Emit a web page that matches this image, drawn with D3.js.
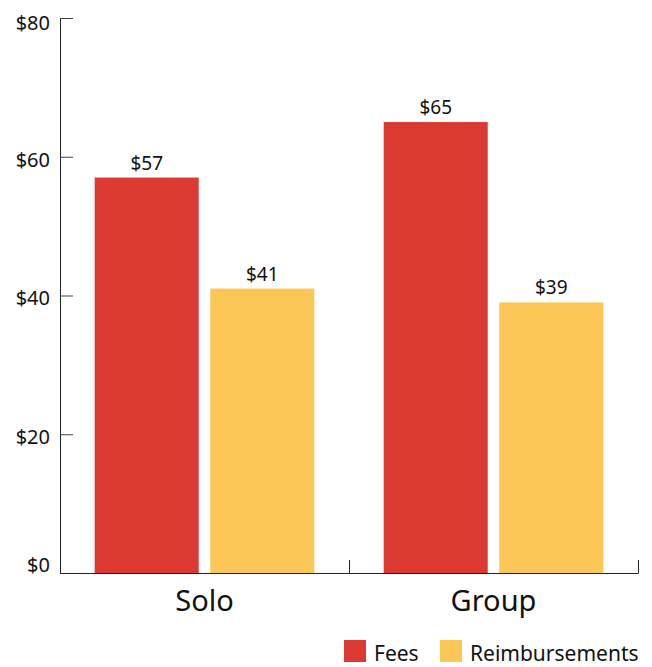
<!DOCTYPE html>
<html>
<head>
<meta charset="utf-8">
<script src="https://cdn.jsdelivr.net/npm/d3@7"></script>
<style>
  html, body { margin: 0; padding: 0; background: #fff; }
  svg { display: block; font-family: "Noto Sans", "Open Sans", sans-serif; }
</style>
</head>
<body>
<svg id="chart" width="652" height="667"></svg>
<script>
// Average amounts per session type
const categories = ["Solo", "Group"];
const seriesNames = ["Fees", "Reimbursements"];
const fees = [57, 65];
const reimbursements = [41, 39];
const yTicks = [0, 20, 40, 60, 80];
const colors = ["#DB3A33", "#FCC756"];

const seriesValues = [fees, reimbursements];
const rows = categories.map((c, i) => ({
  category: c,
  values: seriesNames.map((s, j) => ({ series: s, value: seriesValues[j][i], color: colors[j] }))
}));

const svg = d3.select("#chart");
const plot = { left: 60, right: 638, top: 18, bottom: 573 };

const y = d3.scaleLinear().domain([0, 80]).range([plot.bottom, plot.top]);
const x0 = d3.scaleBand().domain(categories).range([plot.left, plot.right]).padding(0);
const x1 = d3.scaleBand().domain(seriesNames).range([0, x0.bandwidth()])
  .paddingInner(0.1).paddingOuter(0.3);
const xEdge = d3.scaleLinear().domain([0, categories.length]).range([plot.left, plot.right]);

// Bars
const groups = svg.append("g").selectAll("g").data(rows).join("g")
  .attr("transform", d => `translate(${x0(d.category)},0)`);

groups.selectAll("rect").data(d => d.values).join("rect")
  .attr("x", d => x1(d.series))
  .attr("y", d => y(d.value))
  .attr("width", x1.bandwidth())
  .attr("height", d => y(0) - y(d.value))
  .attr("fill", d => d.color);

groups.selectAll("text").data(d => d.values).join("text")
  .attr("x", d => x1(d.series) + x1.bandwidth() / 2)
  .attr("y", d => y(d.value) - 8)
  .attr("text-anchor", "middle")
  .attr("font-size", 19)
  .attr("fill", "#111")
  .text(d => "$" + d.value);

// Y axis; end labels are nudged so they stay inside the axis span
const labelShift = d => d === 0 ? -8 : (d === 80 ? 5 : 3);
const yAxis = svg.append("g").attr("transform", `translate(${plot.left},0)`)
  .call(d3.axisLeft(y).tickValues(yTicks).tickSize(-13).tickSizeOuter(0)
    .tickPadding(10).tickFormat(d => "$" + d))
  .attr("font-family", null).attr("font-size", null);
yAxis.selectAll("text").attr("font-size", 20).attr("fill", "#111")
  .attr("transform", d => `translate(0,${labelShift(d)})`);
yAxis.selectAll("line").attr("stroke", "#444");
yAxis.select(".domain").attr("stroke", "#222");

// X axis with ticks at category boundaries
const xAxis = svg.append("g").attr("transform", `translate(0,${plot.bottom})`)
  .call(d3.axisBottom(xEdge).tickValues(d3.range(categories.length + 1))
    .tickSize(-13).tickSizeOuter(0).tickFormat(""));
xAxis.selectAll("line").attr("stroke", "#222");
xAxis.select(".domain").attr("stroke", "#222");

// Category labels
svg.append("g").selectAll("text").data(categories).join("text")
  .attr("x", d => x0(d) + x0.bandwidth() / 2)
  .attr("y", 611)
  .attr("text-anchor", "middle")
  .attr("font-size", 29)
  .attr("fill", "#111")
  .text(d => d);

// Legend
const legendX = [344, 440];
const legend = svg.append("g").selectAll("g").data(seriesNames).join("g")
  .attr("transform", (d, i) => `translate(${legendX[i]},640)`);
legend.append("rect").attr("width", 22).attr("height", 22)
  .attr("fill", (d, i) => colors[i]);
legend.append("text").attr("x", 30).attr("y", 21)
  .attr("font-size", 21).attr("fill", "#111").text(d => d);
</script>
</body>
</html>
